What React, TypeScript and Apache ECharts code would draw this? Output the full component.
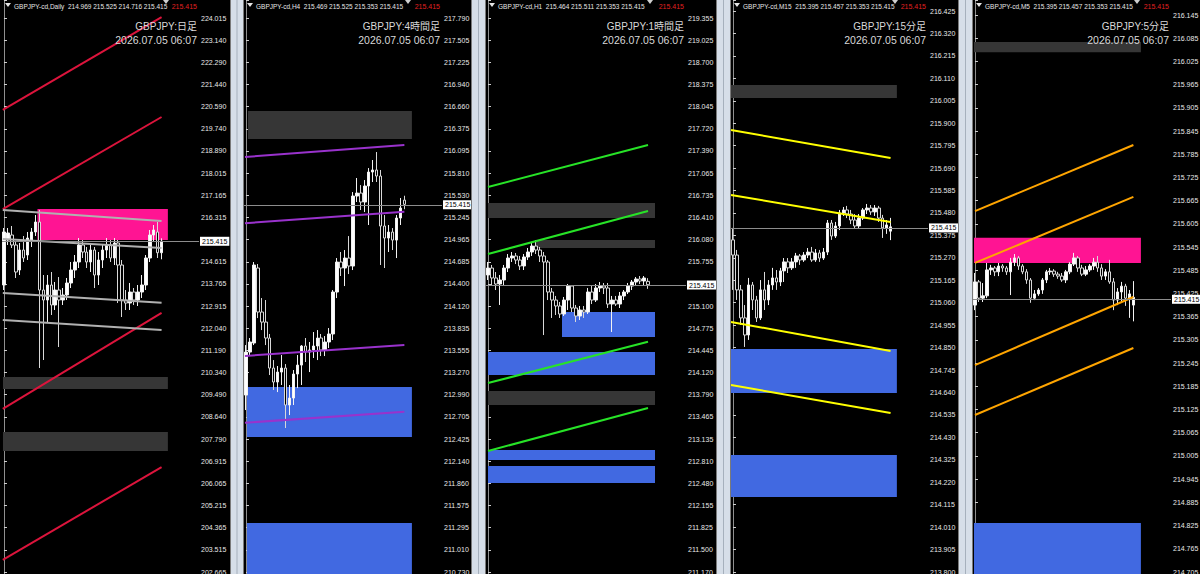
import React, { useEffect, useRef } from 'react';
import * as echarts from 'echarts';

// ---------------- DATA ----------------
const SYMBOLS = ['GBPJPY-cd,Daily', 'GBPJPY-cd,H4', 'GBPJPY-cd,H1', 'GBPJPY-cd,M15', 'GBPJPY-cd,M5'];
const QUOTES = [
  '214.969 215.525 214.716 215.415',
  '215.469 215.525 215.353 215.415',
  '215.464 215.511 215.353 215.415',
  '215.395 215.457 215.353 215.415',
  '215.395 215.457 215.353 215.415',
];
const TITLES = ['GBPJPY:日足', 'GBPJPY:4時間足', 'GBPJPY:1時間足', 'GBPJPY:15分足', 'GBPJPY:5分足'];
const TIMESTAMP = '2026.07.05 06:07';
const CURRENT_PRICE = 215.415;

// tick labels, bottom to top ('' = hidden behind the price box)
const DAILY_TICKS = ['202.665', '203.515', '204.365', '205.215', '206.065', '206.915', '207.790', '208.640', '209.490', '210.340', '211.190', '212.040', '212.915', '213.765', '214.615', '', '216.315', '217.165', '218.015', '218.890', '219.740', '220.590', '221.440', '222.290', '223.140', '224.015'];
const H4_TICKS = ['210.730', '211.010', '211.295', '211.575', '211.860', '212.140', '212.425', '212.705', '212.990', '213.270', '213.555', '213.835', '214.120', '214.400', '214.685', '214.965', '215.245', '215.530', '215.810', '216.095', '216.375', '216.660', '216.940', '217.225', '217.505', '217.790'];
const H1_TICKS = ['211.170', '211.500', '211.825', '212.155', '212.480', '212.810', '213.135', '213.465', '213.790', '214.120', '214.445', '214.775', '215.100', '', '215.755', '216.080', '216.410', '216.735', '217.065', '217.390', '217.720', '218.045', '218.375', '218.700', '219.025', '219.355'];
const M15_TICKS = ['213.800', '213.905', '214.010', '214.115', '214.220', '214.325', '214.430', '214.535', '214.640', '214.745', '214.850', '214.955', '215.060', '215.165', '215.270', '215.375', '215.480', '215.585', '215.690', '215.795', '215.900', '216.005', '216.110', '216.215', '216.320', '216.425'];
const M5_TICKS = ['214.705', '214.765', '214.825', '214.885', '214.945', '215.005', '215.065', '215.125', '215.185', '215.245', '215.305', '215.365', '215.425', '215.485', '215.545', '215.605', '215.665', '215.725', '215.785', '215.845', '215.905', '215.965', '216.025', '216.085', '216.145'];

// candles: [open, close, low, high], one per bar
const DAILY_CANDLES = [
  [213.725, 215.768, 213.532, 215.922], [215.459, 215.729, 215.267, 215.922], [215.652, 215.267, 215.151, 215.999],
  [215.267, 214.226, 213.995, 215.382], [214.303, 215.074, 214.110, 215.344], [215.074, 214.766, 214.612, 215.614],
  [214.881, 215.536, 214.689, 215.768], [215.459, 215.768, 215.190, 215.922], [215.768, 216.153, 215.614, 216.423],
  [216.153, 213.532, 210.526, 216.616], [213.532, 213.147, 210.835, 214.110], [213.147, 213.725, 212.261, 214.110],
  [213.725, 212.954, 212.569, 214.226], [212.954, 213.532, 212.762, 213.841], [213.532, 213.147, 211.336, 214.033],
  [213.147, 213.340, 212.954, 213.609], [213.340, 213.802, 213.147, 213.995], [213.802, 214.303, 213.609, 214.612],
  [214.303, 214.612, 213.995, 214.881], [214.612, 215.267, 214.380, 215.536], [215.267, 214.997, 214.766, 215.459],
  [214.997, 214.612, 214.380, 215.190], [214.612, 215.074, 214.226, 215.267], [215.074, 214.110, 213.609, 215.190],
  [214.110, 214.689, 213.725, 214.997], [214.689, 215.074, 214.380, 215.267], [215.074, 215.267, 214.766, 215.536],
  [215.267, 214.766, 214.612, 215.459], [214.766, 215.344, 214.496, 215.536], [215.344, 214.496, 213.031, 215.459],
  [214.496, 213.147, 212.492, 214.689], [213.147, 213.031, 212.762, 213.532], [213.031, 213.455, 212.762, 213.802],
  [213.455, 213.147, 212.954, 213.609], [213.147, 213.455, 212.916, 213.725], [213.455, 213.725, 213.224, 214.110],
  [213.725, 214.766, 213.532, 214.881], [214.766, 215.652, 214.612, 215.845], [215.652, 215.845, 215.382, 216.037],
  [215.768, 214.969, 214.766, 216.153], [214.969, 215.415, 214.716, 215.525],
];
const H4_CANDLES = [
  [212.985, 213.533, 212.794, 213.622], [213.533, 213.661, 213.495, 213.712], [213.648, 214.642, 213.622, 214.680],
  [214.604, 214.043, 213.966, 214.655], [214.043, 213.915, 213.813, 214.221], [213.915, 213.712, 213.622, 214.196],
  [213.712, 213.329, 213.240, 213.763], [213.329, 213.151, 213.049, 213.431], [213.151, 213.278, 213.023, 213.355],
  [213.278, 213.329, 213.113, 213.495], [213.329, 212.858, 212.565, 213.380], [212.858, 212.947, 212.730, 213.113],
  [212.947, 213.253, 212.858, 213.304], [213.253, 213.367, 213.074, 213.495], [213.367, 213.610, 213.113, 213.622],
  [213.610, 213.533, 213.406, 213.712], [213.533, 213.559, 213.278, 213.661], [213.559, 213.610, 213.457, 213.788],
  [213.610, 213.712, 213.431, 213.813], [213.712, 213.559, 213.482, 213.763], [213.559, 213.661, 213.482, 213.737],
  [213.661, 213.763, 213.584, 213.839], [213.763, 214.298, 213.686, 214.323], [214.298, 214.680, 214.221, 214.731],
  [214.680, 214.604, 214.502, 214.808], [214.604, 214.731, 214.374, 214.833], [214.731, 214.629, 214.527, 215.011],
  [214.629, 215.521, 214.578, 215.572], [215.521, 215.559, 215.445, 215.751], [215.559, 215.445, 215.343, 215.661],
  [215.445, 215.649, 215.317, 215.725], [215.649, 215.827, 215.152, 215.878], [215.827, 215.853, 215.700, 215.980],
  [215.853, 215.776, 215.700, 216.082], [215.776, 215.139, 214.642, 215.853], [215.139, 214.986, 214.604, 215.279],
  [214.986, 215.062, 214.808, 215.152], [215.062, 214.960, 214.833, 215.113], [214.960, 215.241, 214.731, 215.279],
  [215.241, 215.368, 215.152, 215.496], [215.469, 215.415, 215.353, 215.525],
];
const H1_CANDLES = [
  [215.558, 215.661, 215.484, 215.750], [215.661, 215.514, 215.410, 215.706], [215.514, 215.425, 215.336, 215.602],
  [215.425, 215.484, 215.115, 215.558], [215.484, 215.661, 215.410, 215.706], [215.661, 215.809, 215.602, 215.868],
  [215.809, 215.839, 215.750, 215.898], [215.839, 215.779, 215.720, 215.883], [215.779, 215.691, 215.632, 215.839],
  [215.691, 215.824, 215.632, 215.868], [215.824, 215.898, 215.779, 215.957], [215.898, 215.986, 215.839, 216.031],
  [215.986, 215.927, 215.868, 216.075], [215.927, 215.839, 215.750, 215.972], [215.839, 215.750, 214.671, 215.898],
  [215.750, 215.307, 215.188, 215.779], [215.307, 215.188, 214.923, 215.366], [215.188, 215.100, 214.967, 215.248],
  [215.100, 214.982, 214.923, 215.159], [214.982, 215.188, 214.952, 215.233], [215.188, 215.395, 215.041, 215.425],
  [215.395, 215.070, 215.011, 215.410], [215.070, 214.952, 214.863, 215.115], [214.952, 215.041, 214.893, 215.100],
  [215.041, 215.011, 214.923, 215.100], [215.011, 215.307, 214.982, 215.366], [215.307, 215.188, 215.129, 215.395],
  [215.188, 215.366, 215.159, 215.425], [215.366, 215.395, 215.307, 215.454], [215.395, 215.366, 215.277, 215.440],
  [215.366, 215.129, 215.070, 215.440], [215.129, 215.188, 214.716, 215.248], [215.188, 215.129, 215.100, 215.248],
  [215.129, 215.248, 215.070, 215.307], [215.248, 215.307, 215.188, 215.336], [215.307, 215.395, 215.277, 215.440],
  [215.395, 215.454, 215.336, 215.484], [215.454, 215.499, 215.395, 215.528], [215.499, 215.469, 215.425, 215.543],
  [215.469, 215.514, 215.410, 215.543], [215.464, 215.415, 215.353, 215.511],
];
const M15_CANDLES = [
  [215.354, 215.283, 215.120, 215.410], [215.283, 215.120, 215.073, 215.307], [215.120, 214.989, 214.956, 215.143],
  [214.989, 214.909, 214.853, 215.049], [214.909, 215.143, 214.886, 215.176], [215.143, 215.073, 215.026, 215.157],
  [215.073, 214.989, 214.970, 215.092], [214.989, 215.120, 214.979, 215.166], [215.120, 215.073, 215.026, 215.204],
  [215.073, 215.143, 215.049, 215.166], [215.143, 215.176, 215.120, 215.223], [215.176, 215.157, 215.120, 215.213],
  [215.157, 215.209, 215.138, 215.223], [215.209, 215.251, 215.157, 215.269], [215.251, 215.223, 215.199, 215.269],
  [215.223, 215.251, 215.213, 215.269], [215.251, 215.279, 215.223, 215.293], [215.279, 215.260, 215.237, 215.288],
  [215.260, 215.283, 215.251, 215.297], [215.283, 215.297, 215.269, 215.316], [215.297, 215.260, 215.251, 215.321],
  [215.260, 215.293, 215.251, 215.311], [215.293, 215.269, 215.251, 215.307], [215.269, 215.297, 215.260, 215.316],
  [215.297, 215.433, 215.283, 215.447], [215.433, 215.372, 215.354, 215.447], [215.372, 215.419, 215.363, 215.438],
  [215.419, 215.480, 215.400, 215.494], [215.480, 215.494, 215.466, 215.508], [215.494, 215.475, 215.456, 215.513],
  [215.475, 215.447, 215.428, 215.494], [215.447, 215.419, 215.405, 215.475], [215.419, 215.456, 215.405, 215.475],
  [215.456, 215.494, 215.447, 215.503], [215.494, 215.503, 215.475, 215.522], [215.503, 215.485, 215.471, 215.517],
  [215.485, 215.503, 215.466, 215.517], [215.503, 215.456, 215.438, 215.513], [215.456, 215.410, 215.363, 215.471],
  [215.410, 215.424, 215.382, 215.447], [215.395, 215.415, 215.353, 215.457],
];
const M5_CANDLES = [
  [215.395, 215.455, 215.382, 215.478], [215.455, 215.413, 215.403, 215.460], [215.413, 215.419, 215.403, 215.452],
  [215.419, 215.486, 215.413, 215.504], [215.486, 215.491, 215.473, 215.499], [215.491, 215.481, 215.470, 215.496],
  [215.481, 215.496, 215.470, 215.504], [215.496, 215.491, 215.481, 215.501], [215.491, 215.481, 215.473, 215.496],
  [215.481, 215.506, 215.421, 215.517], [215.506, 215.517, 215.496, 215.527], [215.517, 215.496, 215.486, 215.522],
  [215.496, 215.481, 215.475, 215.501], [215.481, 215.460, 215.450, 215.488], [215.460, 215.413, 215.401, 215.465],
  [215.413, 215.424, 215.408, 215.434], [215.424, 215.434, 215.419, 215.439], [215.434, 215.460, 215.424, 215.465],
  [215.460, 215.481, 215.452, 215.486], [215.481, 215.483, 215.473, 215.491], [215.483, 215.475, 215.468, 215.488],
  [215.475, 215.470, 215.463, 215.481], [215.470, 215.460, 215.455, 215.478], [215.460, 215.481, 215.452, 215.486],
  [215.481, 215.501, 215.475, 215.506], [215.501, 215.517, 215.496, 215.530], [215.517, 215.491, 215.481, 215.522],
  [215.491, 215.475, 215.470, 215.499], [215.475, 215.486, 215.470, 215.496], [215.486, 215.496, 215.481, 215.501],
  [215.496, 215.506, 215.486, 215.517], [215.506, 215.491, 215.481, 215.522], [215.491, 215.470, 215.460, 215.501],
  [215.470, 215.481, 215.460, 215.488], [215.481, 215.455, 215.450, 215.512], [215.455, 215.408, 215.382, 215.465],
  [215.408, 215.429, 215.395, 215.439], [215.429, 215.444, 215.403, 215.455], [215.444, 215.413, 215.393, 215.450],
  [215.413, 215.424, 215.362, 215.434], [215.395, 215.415, 215.353, 215.457],
];

// zones: bar range (from/to, in bar index) and price range
type Zone = { from: number; to: number; top: number; bottom: number; kind: string };
const DAILY_ZONES: Zone[] = [
  { from: 8.5, to: 41.6, top: 216.65, bottom: 215.46, kind: 'supply' },
  { from: -0.25, to: 41.6, top: 210.18, bottom: 209.72, kind: 'neutral' },
  { from: -0.25, to: 41.6, top: 208.06, bottom: 207.33, kind: 'neutral' },
];
const H4_ZONES: Zone[] = [
  { from: 0.5, to: 41.9, top: 216.605, bottom: 216.248, kind: 'neutral' },
  { from: 0.25, to: 41.9, top: 213.087, bottom: 212.45, kind: 'demand' },
  { from: 0.25, to: 41.9, top: 211.354, bottom: 210.45, kind: 'demand' },
];
const H1_ZONES: Zone[] = [
  { from: 0, to: 41.75, top: 216.622, bottom: 216.4, kind: 'neutral' },
  { from: 11.75, to: 41.75, top: 216.075, bottom: 215.957, kind: 'neutral' },
  { from: 0, to: 41.75, top: 213.844, bottom: 213.637, kind: 'neutral' },
  { from: 18.5, to: 41.75, top: 215.011, bottom: 214.642, kind: 'demand' },
  { from: 0, to: 41.75, top: 214.42, bottom: 214.08, kind: 'demand' },
  { from: 0, to: 41.75, top: 212.972, bottom: 212.825, kind: 'demand' },
  { from: 0, to: 41.75, top: 212.736, bottom: 212.485, kind: 'demand' },
];
const M15_ZONES: Zone[] = [
  { from: -0.5, to: 41.6, top: 216.079, bottom: 216.018, kind: 'neutral' },
  { from: -0.5, to: 41.6, top: 214.843, bottom: 214.638, kind: 'demand' },
  { from: -0.5, to: 41.6, top: 214.347, bottom: 214.151, kind: 'demand' },
];
const M5_ZONES: Zone[] = [
  { from: -0.25, to: 41.9, top: 216.075, bottom: 216.049, kind: 'neutral' },
  { from: -0.25, to: 41.9, top: 215.569, bottom: 215.504, kind: 'supply' },
  { from: -0.25, to: 41.9, top: 214.832, bottom: 214.646, kind: 'demand' },
];

// trend lines: [[bar, price], [bar, price]]
type Trend = { kind: string; points: number[][] };
const DAILY_LINES: Trend[] = [
  { kind: 'red', points: [[-0.3, 220.47], [40, 224.05]] },
  { kind: 'red', points: [[-0.3, 216.65], [40, 220.2]] },
  { kind: 'red', points: [[-0.3, 208.95], [40, 212.65]] },
  { kind: 'red', points: [[-0.3, 203.13], [40, 206.71]] },
  { kind: 'silver', points: [[-0.3, 216.62], [40, 216.19]] },
  { kind: 'silver', points: [[-0.3, 215.5], [40, 215.15]] },
  { kind: 'silver', points: [[-0.3, 213.42], [40, 213.04]] },
  { kind: 'silver', points: [[-0.3, 212.38], [40, 211.99]] },
];
const H4_LINES: Trend[] = [
  { kind: 'purple', points: [[-0.25, 216.019], [40, 216.172]] },
  { kind: 'purple', points: [[-0.25, 215.174], [40, 215.322]] },
  { kind: 'purple', points: [[-0.25, 213.483], [40, 213.623]] },
  { kind: 'purple', points: [[-0.25, 212.632], [40, 212.773]] },
];
const H1_LINES: Trend[] = [
  { kind: 'green', points: [[0, 216.858], [40, 217.479]] },
  { kind: 'green', points: [[0, 215.868], [40, 216.503]] },
  { kind: 'green', points: [[0, 213.962], [40, 214.571]] },
  { kind: 'green', points: [[0, 212.958], [40, 213.593]] },
];
const M15_LINES: Trend[] = [
  { kind: 'yellow', points: [[-0.5, 215.868], [40, 215.737]] },
  { kind: 'yellow', points: [[-0.5, 215.564], [40, 215.438]] },
  { kind: 'yellow', points: [[-0.5, 214.97], [40, 214.834]] },
  { kind: 'yellow', points: [[-0.5, 214.675], [40, 214.544]] },
];
const M5_LINES: Trend[] = [
  { kind: 'orange', points: [[0, 215.638], [40, 215.809]] },
  { kind: 'orange', points: [[0, 215.504], [40, 215.675]] },
  { kind: 'orange', points: [[0, 215.24], [40, 215.416]] },
  { kind: 'orange', points: [[0, 215.111], [40, 215.284]] },
];

// ---------------- STYLE / LAYOUT ----------------
const ZONE_COLORS: Record<string, string> = { supply: '#ff1493', demand: '#4169e1', neutral: '#363636' };
const LINE_COLORS: Record<string, string> = {
  red: '#dc143c', silver: '#b0b0b0', purple: '#9932cc', green: '#27e327', yellow: '#ffff00', orange: '#ffa500',
};
const W = 1200;
const H = 574;
const SLOTS = 50;
const LABEL_BOTTOM_Y = 572;
const LAYOUT = [
  { left: 2, width: 197, topLabelY: 18 },
  { left: 244, width: 198, topLabelY: 18 },
  { left: 486, width: 200, topLabelY: 18 },
  { left: 731, width: 197, topLabelY: 11 },
  { left: 973, width: 198, topLabelY: 15 },
];
const SEPARATORS = [[230, 244], [471, 486], [716, 731], [958, 973]];
const SMALL_FONT = "'Liberation Sans', Arial, sans-serif";
const TITLE_FONT = "'Liberation Sans', 'Noto Sans CJK JP', sans-serif";

const PANELS = [
  { ticks: DAILY_TICKS, candles: DAILY_CANDLES, zones: DAILY_ZONES, lines: DAILY_LINES },
  { ticks: H4_TICKS, candles: H4_CANDLES, zones: H4_ZONES, lines: H4_LINES },
  { ticks: H1_TICKS, candles: H1_CANDLES, zones: H1_ZONES, lines: H1_LINES },
  { ticks: M15_TICKS, candles: M15_CANDLES, zones: M15_ZONES, lines: M15_LINES },
  { ticks: M5_TICKS, candles: M5_CANDLES, zones: M5_ZONES, lines: M5_LINES },
];

function buildOption() {
  const grid: any[] = [];
  const xAxis: any[] = [];
  const yAxis: any[] = [];
  const series: any[] = [];
  const graphic: any[] = [];

  PANELS.forEach((p, i) => {
    const L = LAYOUT[i];
    const n = p.ticks.length - 1;
    const lo = parseFloat(p.ticks[0]);
    const hi = parseFloat(p.ticks[n]);
    const step = (hi - lo) / n;
    const pxPerStep = (LABEL_BOTTOM_Y - L.topLabelY) / n;
    const min = lo - step;
    const max = hi + (L.topLabelY / pxPerStep) * step;

    grid.push({
      left: L.left,
      width: L.width,
      top: 0,
      height: LABEL_BOTTOM_Y + pxPerStep,
      show: false,
      containLabel: false,
      outerBoundsMode: 'none',
    });
    xAxis.push({ gridIndex: i, type: 'value', min: -0.5, max: SLOTS - 0.5, show: false });
    yAxis.push({
      gridIndex: i,
      type: 'value',
      position: 'right',
      min,
      max,
      interval: step,
      splitLine: { show: false },
      axisLine: { show: true, lineStyle: { color: '#8f8f8f', width: 1 } },
      axisTick: { show: true, length: 3, lineStyle: { color: '#cfcfcf', width: 1 } },
      axisLabel: {
        show: true,
        margin: 2,
        color: '#e8e8e8',
        fontSize: 7,
        fontFamily: SMALL_FONT,
        hideOverlap: false,
        formatter: (v: number) => {
          const k = Math.round((v - min) / step) - 1;
          if (k < 0 || k > n) return '';
          if (Math.abs(min + (k + 1) * step - v) > step * 0.1) return '';
          return p.ticks[k];
        },
      },
    });

    series.push({
      type: 'candlestick',
      xAxisIndex: i,
      yAxisIndex: i,
      z: 2,
      barWidth: 3,
      data: p.candles.map((c, s) => [s, c[0], c[1], c[2], c[3]]),
      encode: { x: 0, y: [1, 2, 3, 4] },
      itemStyle: {
        color: '#ffffff',
        color0: '#000000',
        borderColor: '#f2f2f2',
        borderColor0: '#d8d8d8',
        borderWidth: 1,
      },
      silent: true,
      markArea: {
        silent: true,
        z: 1,
        data: p.zones.map((zn) => [
          { coord: [zn.from, zn.top], itemStyle: { color: ZONE_COLORS[zn.kind], opacity: 1 } },
          { coord: [zn.to, zn.bottom] },
        ]),
      },
      markLine: {
        silent: true,
        symbol: ['none', 'none'],
        z: 5,
        lineStyle: { color: '#8c8c8c', width: 1, type: 'solid' },
        label: {
          show: true,
          position: 'end',
          distance: 1,
          formatter: CURRENT_PRICE.toFixed(3),
          color: '#000000',
          backgroundColor: '#ffffff',
          fontSize: 7,
          fontFamily: SMALL_FONT,
          padding: [1, 2, 1, 2],
        },
        data: [{ yAxis: CURRENT_PRICE }],
      },
    });

    p.lines.forEach((ln) => {
      series.push({
        type: 'line',
        xAxisIndex: i,
        yAxisIndex: i,
        z: 3,
        silent: true,
        symbol: 'none',
        showSymbol: false,
        data: ln.points,
        lineStyle: { color: LINE_COLORS[ln.kind], width: 2 },
      });
    });

    const right = L.left + L.width;
    graphic.push(
      { type: 'polygon', z: 100, shape: { points: [[L.left + 3, 3], [L.left + 9, 3], [L.left + 6, 7]] }, style: { fill: '#e6e6e6' } },
      { type: 'text', z: 100, x: L.left + 12, y: 6, style: { text: SYMBOLS[i] + '  ' + QUOTES[i], fill: '#e6e6e6', fontSize: 6.5, fontFamily: SMALL_FONT, verticalAlign: 'middle', align: 'left' } },
      { type: 'text', z: 100, x: right - 2, y: 6, style: { text: CURRENT_PRICE.toFixed(3), fill: '#e02020', fontSize: 7, fontFamily: SMALL_FONT, verticalAlign: 'middle', align: 'right' } },
      { type: 'polygon', z: 100, shape: { points: [[L.left + 161, 0], [L.left + 167, 0], [L.left + 164, 4]] }, style: { fill: '#cfcfcf' } },
      { type: 'text', z: 100, x: right - 2, y: 26, style: { text: TITLES[i], fill: '#d8d8d8', fontSize: 10, fontFamily: TITLE_FONT, verticalAlign: 'middle', align: 'right' } },
      { type: 'text', z: 100, x: right - 2, y: 40, style: { text: TIMESTAMP, fill: '#d8d8d8', fontSize: 10.5, fontFamily: TITLE_FONT, verticalAlign: 'middle', align: 'right' } },
    );
  });

  SEPARATORS.forEach(([a, b]) => {
    graphic.push(
      { type: 'rect', z: 90, shape: { x: a, y: 0, width: b - a, height: H }, style: { fill: '#d6dee8' } },
      { type: 'line', z: 91, shape: { x1: a + 0.5, y1: 0, x2: a + 0.5, y2: H }, style: { stroke: '#7a7a7a', lineWidth: 1 } },
      { type: 'line', z: 91, shape: { x1: (a + b) / 2, y1: 0, x2: (a + b) / 2, y2: H }, style: { stroke: '#a6b0bc', lineWidth: 1 } },
      { type: 'line', z: 91, shape: { x1: b - 0.5, y1: 0, x2: b - 0.5, y2: H }, style: { stroke: '#7a7a7a', lineWidth: 1 } },
    );
  });

  return {
    animation: false,
    backgroundColor: '#000000',
    grid,
    xAxis,
    yAxis,
    series,
    graphic,
  };
}

export default function App() {
  const ref = useRef<HTMLDivElement>(null);
  useEffect(() => {
    if (!ref.current) return;
    const chart = echarts.init(ref.current, null, { renderer: 'svg' });
    chart.setOption(buildOption() as any);
    return () => chart.dispose();
  }, []);
  return (
    <div
      ref={ref}
      style={{ position: 'fixed', left: 0, top: 0, width: W, height: H, background: '#000', overflow: 'hidden' }}
    />
  );
}
